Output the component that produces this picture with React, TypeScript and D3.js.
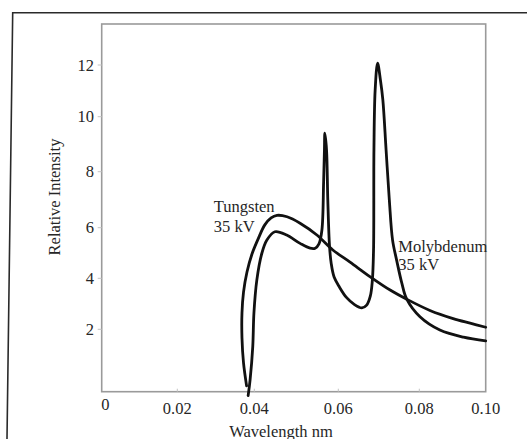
import React, { useEffect, useRef } from "react";
import * as d3 from "d3";

// tick values on the axes
const X_TICKS = [0, 0.02, 0.04, 0.06, 0.08, 0.1];
const X_TICK_LABELS = ["0", "0.02", "0.04", "0.06", "0.08", "0.10"];
const Y_TICKS = [2, 4, 6, 8, 10, 12];

// Tungsten 35 kV (smooth continuum)
const TUNGSTEN_WL = [
	0.038, 0.0372, 0.0368, 0.0368, 0.0372, 0.0381, 0.0394, 0.0409, 0.0425, 0.044,
	0.0454, 0.0478, 0.0509, 0.0549, 0.0587, 0.0629, 0.0678, 0.0728, 0.0769, 0.0832,
	0.0902, 0.0953, 0.1
];
const TUNGSTEN_I = [
	-0.22, 0.68, 1.66, 2.64, 3.46, 4.25, 4.96, 5.55, 6.1, 6.35,
	6.44, 6.39, 6.16, 5.71, 5.12, 4.64, 4.07, 3.54, 3.18, 2.74,
	2.42, 2.24, 2.08
];

// Molybdenum 35 kV (continuum + two characteristic lines)
const MOLY_WL = [
	0.0384, 0.0389, 0.0396, 0.0399, 0.0406, 0.0418, 0.043, 0.0449, 0.0477, 0.0509,
	0.0533, 0.0545, 0.0554, 0.0561, 0.0565, 0.0567, 0.0568, 0.0572, 0.0575, 0.0579,
	0.0583, 0.059, 0.0603, 0.062, 0.064, 0.0658, 0.067, 0.0679, 0.0684, 0.0687,
	0.0688, 0.0691, 0.0697, 0.0704, 0.071, 0.0718, 0.0726, 0.0734, 0.0744, 0.0757,
	0.0769, 0.0802, 0.0862, 0.0933, 0.1
];
const MOLY_I = [
	-0.6, 0.01, 1.32, 2.63, 3.93, 4.99, 5.51, 5.84, 5.71, 5.38,
	5.19, 5.19, 5.36, 5.91, 7.6, 8.79, 9.4, 8.79, 6.99, 5.3,
	4.6, 4.05, 3.65, 3.25, 2.97, 2.84, 2.95, 3.3, 3.9, 5.1,
	8.79, 11.03, 12.07, 11.42, 10.65, 8.79, 6.99, 5.51, 4.72, 3.8,
	3.18, 2.49, 1.97, 1.69, 1.55
];

const WIDTH = 527;
const HEIGHT = 439;
const LEFT = 101.7;
const RIGHT = 485.7;
const TOP = 24;
const BOTTOM = 391.7;
const FONT = "'Liberation Serif', 'Times New Roman', serif";

function App() {
	const ref = useRef<SVGSVGElement>(null);

	useEffect(() => {
		const svg = d3.select(ref.current);
		svg.selectAll("*").remove();

		// the scanned axes are not evenly spaced, so use piecewise scales
		const x = d3.scaleLinear()
			.domain(X_TICKS)
			.range([LEFT, 177.3, 254.3, 338.3, 419.3, RIGHT]);
		const y = d3.scaleLinear()
			.domain(Y_TICKS)
			.range([329.3, 278.3, 227.7, 171.7, 116.7, 65]);

		// outer page frame
		svg.append("path")
			.attr("d", "M7,439 L12.7,12.7 L527,12.7")
			.attr("fill", "none")
			.attr("stroke", "#2a2a2a")
			.attr("stroke-width", 1.6);

		// plot box
		svg.append("rect")
			.attr("x", LEFT)
			.attr("y", TOP)
			.attr("width", RIGHT - LEFT)
			.attr("height", BOTTOM - TOP)
			.attr("fill", "none")
			.attr("stroke", "#9a9a9a")
			.attr("stroke-width", 1.6);

		// y ticks
		const yt = svg.append("g");
		yt.selectAll("line")
			.data(Y_TICKS)
			.enter()
			.append("line")
			.attr("x1", LEFT - 4)
			.attr("x2", LEFT)
			.attr("y1", (d) => y(d))
			.attr("y2", (d) => y(d))
			.attr("stroke", "#c4c4c4");
		yt.selectAll("text")
			.data(Y_TICKS)
			.enter()
			.append("text")
			.attr("x", 94)
			.attr("y", (d) => y(d))
			.attr("dy", "0.35em")
			.attr("text-anchor", "end")
			.attr("font-family", FONT)
			.attr("font-size", 16.5)
			.attr("fill", "#262626")
			.text((d) => d);

		// x ticks
		const xt = svg.append("g");
		xt.selectAll("line")
			.data(X_TICKS.slice(1, -1))
			.enter()
			.append("line")
			.attr("x1", (d) => x(d))
			.attr("x2", (d) => x(d))
			.attr("y1", BOTTOM - 3)
			.attr("y2", BOTTOM)
			.attr("stroke", "#c4c4c4");
		xt.selectAll("text")
			.data(X_TICKS)
			.enter()
			.append("text")
			.attr("x", (d) => x(d) + (d === 0 ? 3.6 : 0))
			.attr("y", (d) => (d === 0 ? 410 : 414))
			.attr("text-anchor", "middle")
			.attr("font-family", FONT)
			.attr("font-size", 16.5)
			.attr("fill", "#262626")
			.text((d, i) => X_TICK_LABELS[i]);

		// axis titles
		svg.append("text")
			.attr("x", 281)
			.attr("y", 436.5)
			.attr("text-anchor", "middle")
			.attr("font-family", FONT)
			.attr("font-size", 16.5)
			.attr("fill", "#262626")
			.text("Wavelength nm");
		svg.append("text")
			.attr("transform", "translate(60,197) rotate(-90)")
			.attr("text-anchor", "middle")
			.attr("font-family", FONT)
			.attr("font-size", 16.5)
			.attr("fill", "#262626")
			.text("Relative Intensity");

		// curves
		const line = d3.line<[number, number]>()
			.x((d) => x(d[0]))
			.y((d) => y(d[1]))
			.curve(d3.curveCatmullRom.alpha(0.5));

		const series = [
			TUNGSTEN_WL.map((w, i) => [w, TUNGSTEN_I[i]] as [number, number]),
			MOLY_WL.map((w, i) => [w, MOLY_I[i]] as [number, number])
		];
		svg.selectAll("path.curve")
			.data(series)
			.enter()
			.append("path")
			.attr("class", "curve")
			.attr("d", (d) => line(d))
			.attr("fill", "none")
			.attr("stroke", "#111")
			.attr("stroke-width", 2.8)
			.attr("stroke-linejoin", "round")
			.attr("stroke-linecap", "round");

		// curve labels
		const labels = [
			{ text: "Tungsten", x: 213.8, y: 212.3 },
			{ text: "35 kV", x: 213.8, y: 232 },
			{ text: "Molybdenum", x: 398.3, y: 252 },
			{ text: "35 kV", x: 398.3, y: 270 }
		];
		svg.selectAll("text.label")
			.data(labels)
			.enter()
			.append("text")
			.attr("class", "label")
			.attr("x", (d) => d.x)
			.attr("y", (d) => d.y)
			.attr("font-family", FONT)
			.attr("font-size", 16.5)
			.attr("fill", "#262626")
			.text((d) => d.text);
	}, []);

	return (
		<svg
			ref={ref}
			width={WIDTH}
			height={HEIGHT}
			style={{ position: "absolute", left: 0, top: 0, background: "#fff" }}
		/>
	);
}

export default App;
